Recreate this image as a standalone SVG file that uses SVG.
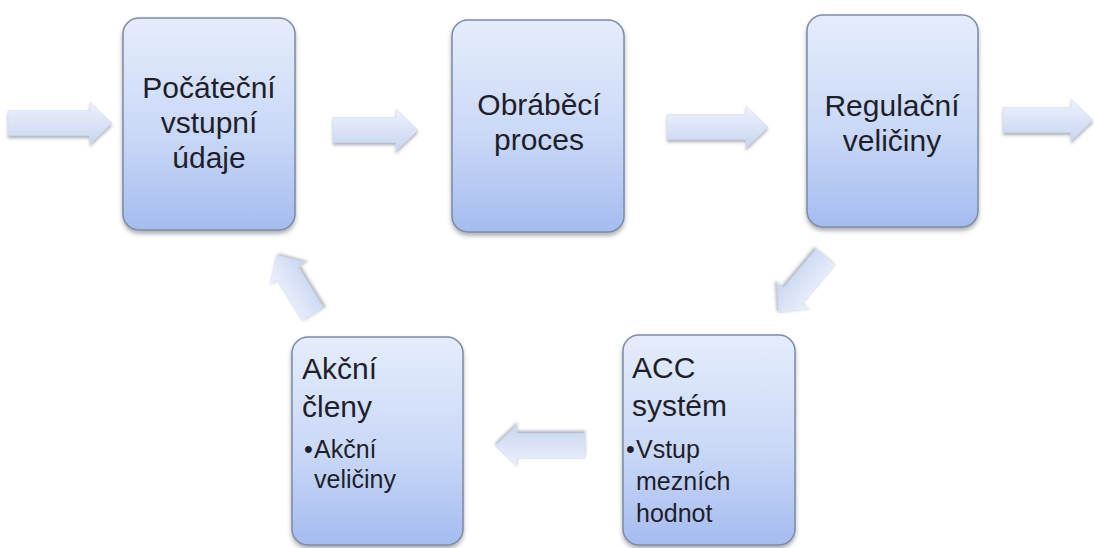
<svg xmlns="http://www.w3.org/2000/svg" width="1094" height="548" viewBox="0 0 1094 548">
  <defs>
    <linearGradient id="boxGrad" x1="0" y1="0" x2="0" y2="1">
      <stop offset="0" stop-color="#e5edfc"/>
      <stop offset="0.55" stop-color="#cad8f7"/>
      <stop offset="1" stop-color="#a5bcf0"/>
    </linearGradient>
    <linearGradient id="arrowGrad" x1="0" y1="0" x2="0" y2="1">
      <stop offset="0" stop-color="#eef2fc"/>
      <stop offset="1" stop-color="#c8d5f2"/>
    </linearGradient>
    <filter id="shadow" x="-20%" y="-20%" width="140%" height="140%">
      <feDropShadow dx="0" dy="3" stdDeviation="2" flood-color="#404858" flood-opacity="0.45"/>
    </filter>
    <filter id="ashadow" x="-20%" y="-40%" width="140%" height="180%">
      <feDropShadow dx="0" dy="2.5" stdDeviation="1.5" flood-color="#606878" flood-opacity="0.5"/>
    </filter>
  </defs>
  <style>
    .box { fill: url(#boxGrad); stroke: #7d8ba5; stroke-width: 1.5; filter: url(#shadow); }
    .arrow { fill: url(#arrowGrad); stroke: #d0d8ea; stroke-width: 0.5; filter: url(#ashadow); }
    .t { font-family: "Liberation Sans", Arial, sans-serif; fill: #1e1f2b; }
    .main { font-size: 30px; }
    .ctr { text-anchor: middle; }
    .sub { font-size: 25px; }
  </style>
  <rect width="1094" height="548" fill="#ffffff"/>

  <g id="connectors">
    <path class="arrow" transform="translate(112,123)" d="M-104,-12.5 H-22 V-21 L0,0 L-22,21 V12.5 H-104 Z"/>
    <path class="arrow" transform="translate(418,130)" d="M-85,-12.5 H-22 V-21 L0,0 L-22,21 V12.5 H-85 Z"/>
    <path class="arrow" transform="translate(768,127)" d="M-101,-12.5 H-22 V-21 L0,0 L-22,21 V12.5 H-101 Z"/>
    <path class="arrow" transform="translate(1093,120)" d="M-90,-12.5 H-22 V-21 L0,0 L-22,21 V12.5 H-90 Z"/>
    <path class="arrow" transform="translate(779,313) rotate(130)" d="M-73,-12.5 H-22 V-21 L0,0 L-22,21 V12.5 H-73 Z"/>
    <path class="arrow" transform="translate(495,446) rotate(180)" d="M-90,-12.5 H-22 V-21 L0,0 L-22,21 V12.5 H-90 Z"/>
    <path class="arrow" transform="translate(276,255) rotate(-121.7)" d="M-70,-12.5 H-22 V-21 L0,0 L-22,21 V12.5 H-70 Z"/>
  </g>

  <g id="node-pocatecni">
    <rect class="box" x="123" y="18" width="172" height="212" rx="16"/>
    <text class="t main ctr" x="209" y="98">Počáteční</text>
    <text class="t main ctr" x="209" y="133">vstupní</text>
    <text class="t main ctr" x="209" y="168">údaje</text>
  </g>

  <g id="node-obrabeci">
    <rect class="box" x="452" y="20" width="172" height="212" rx="16"/>
    <text class="t main ctr" x="539" y="115">Obráběcí</text>
    <text class="t main ctr" x="539" y="150">proces</text>
  </g>

  <g id="node-regulacni">
    <rect class="box" x="807" y="15" width="171" height="212" rx="16"/>
    <text class="t main ctr" x="892" y="116">Regulační</text>
    <text class="t main ctr" x="892" y="151">veličiny</text>
  </g>

  <g id="node-acc">
    <rect class="box" x="623" y="335" width="172" height="210" rx="16"/>
    <text class="t main" x="632" y="378">ACC</text>
    <text class="t main" x="632" y="416">systém</text>
    <text class="t sub" x="626" y="458">•</text>
    <text class="t sub" x="636" y="458">Vstup</text>
    <text class="t sub" x="636" y="490">mezních</text>
    <text class="t sub" x="636" y="522">hodnot</text>
  </g>

  <g id="node-akcni">
    <rect class="box" x="292" y="337" width="171" height="208" rx="16"/>
    <text class="t main" x="302" y="379">Akční</text>
    <text class="t main" x="302" y="417">členy</text>
    <text class="t sub" x="304" y="458">•</text>
    <text class="t sub" x="314" y="458">Akční</text>
    <text class="t sub" x="314" y="488">veličiny</text>
  </g>
</svg>
